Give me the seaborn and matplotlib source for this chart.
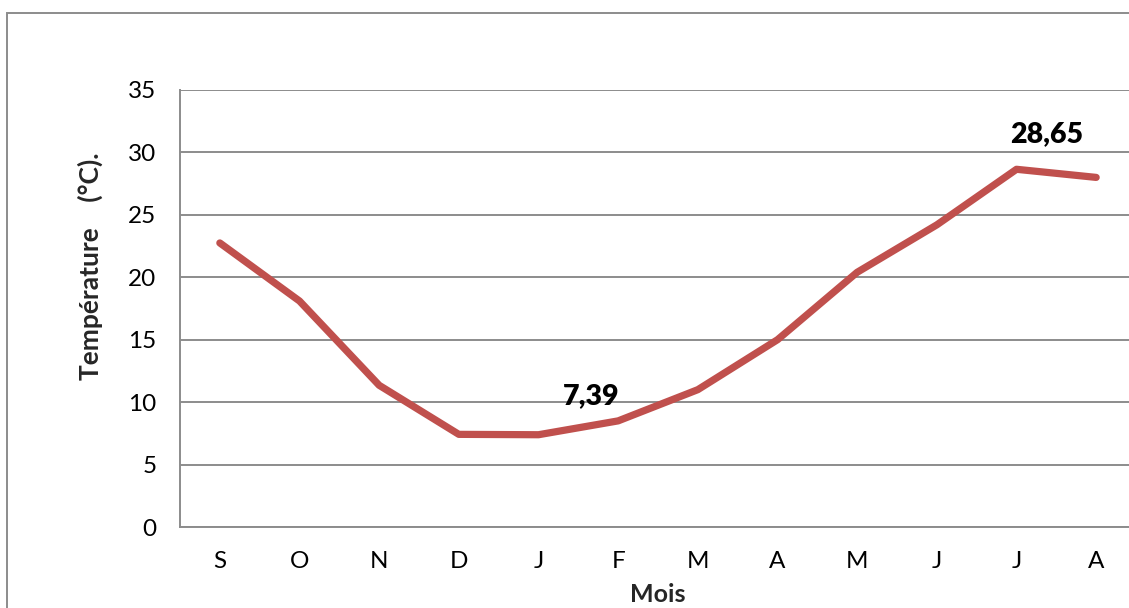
import matplotlib
matplotlib.use("Agg")
import matplotlib.pyplot as plt
from matplotlib.patches import Rectangle
import seaborn as sns
import pandas as pd

months = ["S", "O", "N", "D", "J", "F", "M", "A", "M", "J", "J", "A"]
temperature = [22.75, 18.1, 11.35, 7.42, 7.39, 8.5, 11.0, 15.0, 20.4, 24.2, 28.65, 28.0]
y_ticks = [0, 5, 10, 15, 20, 25, 30, 35]

sns.set_theme(style="white")
plt.rcParams["font.family"] = ["Lato", "DejaVu Sans"]

W, H = 1129, 608
fig = plt.figure(figsize=(W / 100, H / 100), dpi=100)

left, right, top, bottom = 180, 1136, 90, 527
ax = fig.add_axes([left / W, 1 - bottom / H, (right - left) / W, (bottom - top) / H])

df = pd.DataFrame({"pos": range(len(months)), "temp": temperature})
sns.lineplot(data=df, x="pos", y="temp", ax=ax, color="#C0504D", linewidth=5.2,
             solid_capstyle="round", solid_joinstyle="round", zorder=3)

ax.set_xlim(-0.5, len(months) - 0.5)
ax.set_ylim(0, 35)
ax.set_xticks(range(len(months)))
ax.set_xticklabels(months)
ax.set_yticks(y_ticks)
ax.set_yticklabels([str(v) for v in y_ticks])
ax.tick_params(axis="both", length=0, labelsize=17.5, colors="black")
ax.tick_params(axis="x", pad=17)
ax.tick_params(axis="y", pad=17)

ax.yaxis.grid(True, color="#8c8c8c", linewidth=1.4)
ax.set_axisbelow(True)
for s in ["top", "right"]:
    ax.spines[s].set_visible(False)
for s in ["left", "bottom"]:
    ax.spines[s].set_color("#8c8c8c")
    ax.spines[s].set_linewidth(1.4)

ax.set_xlabel("Mois", fontsize=18, fontweight="bold", va="center")
ax.xaxis.set_label_coords((658 - 180) / 956, (527 - 594) / 437)
ax.set_ylabel("Température    (°C).", fontsize=19, fontweight="bold", va="center")
ax.yaxis.set_label_coords((90 - 180) / 956, (527 - 266) / 437)

# Value labels for the minimum and maximum
i_min = temperature.index(min(temperature))
i_max = temperature.index(max(temperature))
for i, dx, dy in [(i_min, 38, 28), (i_max, 22, 25)]:
    ax.annotate(f"{temperature[i]:.2f}".replace(".", ","), (i, temperature[i]),
                xytext=(dx, dy), textcoords="offset points", ha="center", va="center",
                fontsize=20.5, fontweight="heavy", color="black")

# Chart frame
fig.patches.append(Rectangle((7 / W, -0.1), 1.2, 1 - 13 / H + 0.1, transform=fig.transFigure,
                             fill=False, edgecolor="#8c8c8c", linewidth=1.4))

fig.savefig("out.png", dpi=100)
